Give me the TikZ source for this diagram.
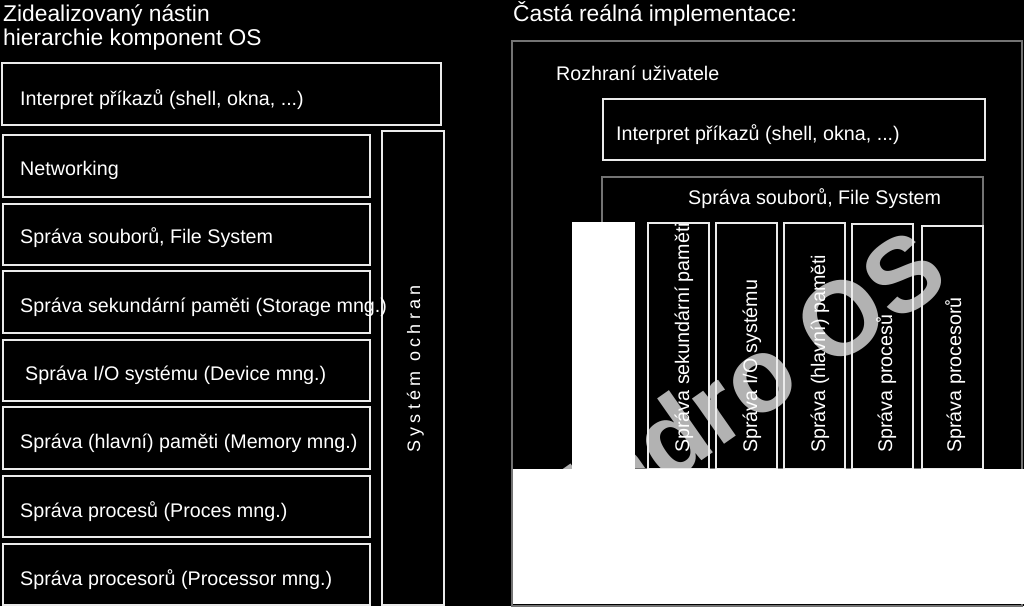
\documentclass[tikz,border=0pt]{standalone}
\usepackage{fontspec}
\setmainfont{Liberation Sans}
\newfontfamily\wmfont{Liberation Sans}[BoldFont={Liberation Sans Bold}]
\begin{document}
\begin{tikzpicture}[x=1pt,y=-1pt,
  wbox/.style={draw=white!92!black,line width=1.8pt},
  gbox/.style={draw=black!55,line width=1.2pt},
  lbl/.style={text=white,inner sep=0pt,font=\fontsize{19.7}{23.6}\selectfont,anchor=base west},
  vlbl/.style={text=white,inner sep=0pt,font=\fontsize{19.7}{23.6}\selectfont,anchor=base west,rotate=90},
  ttl/.style={text=white,inner sep=0pt,font=\fontsize{22.8}{24}\selectfont,anchor=base west}]
\useasboundingbox (0,0) rectangle (1024,606);
\fill[black] (0,0) rectangle (1024,606);
% watermark
\node[text=black!30,font=\wmfont\bfseries\fontsize{105}{110}\selectfont,rotate=35,inner sep=0pt] (wm) at (740,387) {Jádro OS};
% titles
\node[ttl] (t1) at (3,21) {Zidealizovaný nástin};
\node[ttl] (t2) at (3,45) {hierarchie komponent OS};
\node[ttl] (t3) at (513,21) {Častá reálná implementace:};
% left boxes
\draw[wbox] (2,63) rectangle (441,125);
\draw[wbox] (3,135) rectangle (370,197);
\draw[wbox] (3,204) rectangle (370,265);
\draw[wbox] (3,271) rectangle (370,333);
\draw[wbox] (3,340) rectangle (370,401);
\draw[wbox] (3,407) rectangle (370,469);
\draw[wbox] (3,476) rectangle (370,537);
\draw[wbox] (3,544) rectangle (370,605);
\draw[wbox] (382,131) rectangle (444,605);
\node[lbl] (l0) at (20,105) {Interpret příkazů (shell, okna, ...)};
\node[lbl] (l1) at (20,175) {Networking};
\node[lbl] (l2) at (20,243) {Správa souborů, File System};
\node[lbl] (l3) at (20,312) {Správa sekundární paměti (Storage mng.)};
\node[lbl] (l4) at (25,380) {Správa I/O systému (Device mng.)};
\node[lbl] (l5) at (20,448) {Správa (hlavní) paměti (Memory mng.)};
\node[lbl] (l6) at (20,517) {Správa procesů (Proces mng.)};
\node[lbl] (l7) at (20,585) {Správa procesorů (Processor mng.)};
\node[text=white,inner sep=0pt,rotate=90,anchor=base,font=\fontsize{18}{22}\selectfont\addfontfeature{LetterSpace=24}] (so) at (420,369) {Systém ochran};
% right side
\draw[gbox] (512,41) rectangle (1022,606);
\node[lbl] (r0) at (556,80) {Rozhraní uživatele};
\draw[wbox] (603,99) rectangle (985,160);
\node[lbl] (r1) at (616,140) {Interpret příkazů (shell, okna, ...)};
\draw[gbox] (602,177) rectangle (983,469);
\node[lbl] (r2) at (688,204) {Správa souborů, File System};
\draw[wbox] (648,223) rectangle (709,469);
\draw[wbox] (716,223) rectangle (777,469);
\draw[wbox] (784,223) rectangle (845,469);
\draw[wbox] (852,224) rectangle (913,469);
\draw[wbox] (922,226) rectangle (983,469);
\node[vlbl] (v1) at (689,453) {Správa sekundární paměti};
\node[vlbl] (v2) at (757,453) {Správa I/O systému};
\node[vlbl] (v3) at (825,453) {Správa (hlavní) paměti};
\node[vlbl] (v4) at (892,453) {Správa procesů};
\node[vlbl] (v5) at (961,453) {Správa procesorů};
% white overlays
\fill[white] (572,222) rectangle (635,469);
\fill[white] (513,469) rectangle (1024,603.5);
\end{tikzpicture}
\end{document}
